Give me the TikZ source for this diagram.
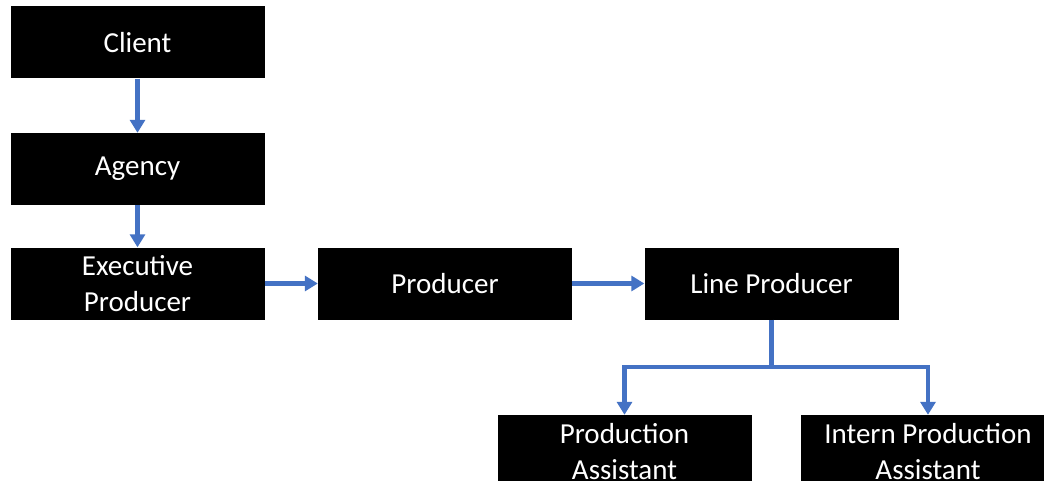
\documentclass[tikz,border=0pt]{standalone}
\usepackage{fontspec}
\setmainfont{Carlito}
\usetikzlibrary{arrows.meta}
\definecolor{linkblue}{HTML}{4472C4}

\begin{document}
\begin{tikzpicture}[x=1pt,y=-1pt,
	role/.style={fill=black,text=white,minimum width=254pt,minimum height=72pt,
		inner sep=0pt,align=center,font=\fontsize{29}{36}\selectfont},
	link/.style={draw=linkblue,line width=4.5pt,-{Triangle[length=13pt,width=15pt]}}]
\useasboundingbox (0,0) rectangle (1044,481);
\clip (0,0) rectangle (1044,481);
\fill[white] (0,0) rectangle (1044,481);

\node[role](client) at (137.5,42.5) {Client};
\node[role](agency) at (137.5,169) {Agency};
\node[role](exec) at (137.5,283.5) {Executive\\Producer};
\node[role](prod) at (445,283.5) {Producer};
\node[role](line) at (771.5,283.5) {Line Producer};
\node[role,minimum height=74pt](pa) at (624.5,452) {Production\\Assistant};
\node[role,minimum height=74pt](ipa) at (928,452) {Intern Production\\Assistant};
\coordinate (fork) at (771.5,367);

\draw[link] (client) -- (agency);
\draw[link] (agency) -- (exec);
\draw[link] (exec) -- (prod);
\draw[link] (prod) -- (line);
\draw[link] (line.south) -- (fork) -| (pa.north);
\draw[link] (fork) -| (ipa.north);

\end{tikzpicture}
\end{document}
